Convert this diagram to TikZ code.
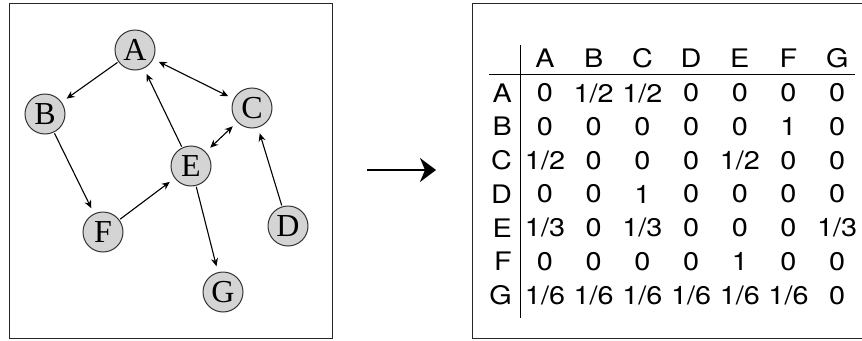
\documentclass[tikz,border=0pt]{standalone}
\usepackage{fontspec}
\setmainfont{Liberation Serif}
\newfontfamily\cellfont[FakeStretch=1.13]{TeX Gyre Heros}
\usetikzlibrary{arrows.meta}
\begin{document}
\begin{tikzpicture}[
  x=1pt, y=-1pt,
  v/.style={circle, draw=black!80, line width=1pt, fill=black!17, minimum size=40pt,
    inner sep=0pt, font=\fontsize{32}{32}\selectfont},
  e/.style={line width=1.1pt, shorten >=6pt, shorten <=1pt},
  dir/.style={e, -{Stealth[length=8pt, width=7pt]}},
  bidir/.style={e, shorten <=6pt, {Stealth[length=8pt, width=7pt]}-{Stealth[length=8pt, width=7pt]}},
  frame/.style={draw=black!85, line width=1pt},
  cell/.style={font=\cellfont\fontsize{25.5}{30}\selectfont, inner sep=0pt}
]
\useasboundingbox (0,0) rectangle (862,340);

% --- frames ---
\draw[frame] (9,3) rectangle (332,338);
\draw[frame] (472,3) rectangle (864,338);

% --- graph ---
\node[v] (A) at (135,50)  {A};
\node[v] (B) at (45,114)  {B};
\node[v] (C) at (252,108) {C};
\node[v] (E) at (191,166) {E};
\node[v] (F) at (103,232) {F};
\node[v] (D) at (288,226) {D};
\node[v] (G) at (223,292) {G};

\draw[dir] (A) -- (B);
\draw[dir] (B) -- (F);
\draw[dir] (F) -- (E);
\draw[dir] (E) -- (A);
\draw[dir] (E) -- (G);
\draw[dir] (D) -- (C);
\draw[bidir] (A) -- (C);
\draw[bidir] (C) -- (E);

% --- big arrow ---
\coordinate (arrS) at (367,170);
\coordinate (arrT) at (436,170);
\draw[line width=2.5pt, -{Stealth[length=16pt, width=24pt, inset=5pt]}] (arrS) -- (arrT);

% --- transition table ---
\foreach \c [count=\j] in {A,B,C,D,E,F,G}
  \node[cell] (h\c) at ({545+48.7*(\j-1)},58) {\c};

\foreach \r/\vals [count=\i] in {
    A/{0,1/2,1/2,0,0,0,0},
    B/{0,0,0,0,0,1,0},
    C/{1/2,0,0,0,1/2,0,0},
    D/{0,0,1,0,0,0,0},
    E/{1/3,0,1/3,0,0,0,1/3},
    F/{0,0,0,0,1,0,0},
    G/{1/6,1/6,1/6,1/6,1/6,1/6,0}} {
  \node[cell, anchor=east] (r\r) at (512,{93+33.7*(\i-1)}) {\r};
  \foreach \val [count=\j] in \vals
    \node[cell] (p\r\j) at ({545+48.7*(\j-1)},{93+33.7*(\i-1)}) {\val};
}

\coordinate (vTop) at (520,45);
\coordinate (vBot) at (520,318);
\coordinate (hL) at (489,74);
\coordinate (hR) at (855,74);
\draw[line width=1pt] (vTop) -- (vBot);
\draw[line width=1pt] (hL) -- (hR);

\end{tikzpicture}
\end{document}
